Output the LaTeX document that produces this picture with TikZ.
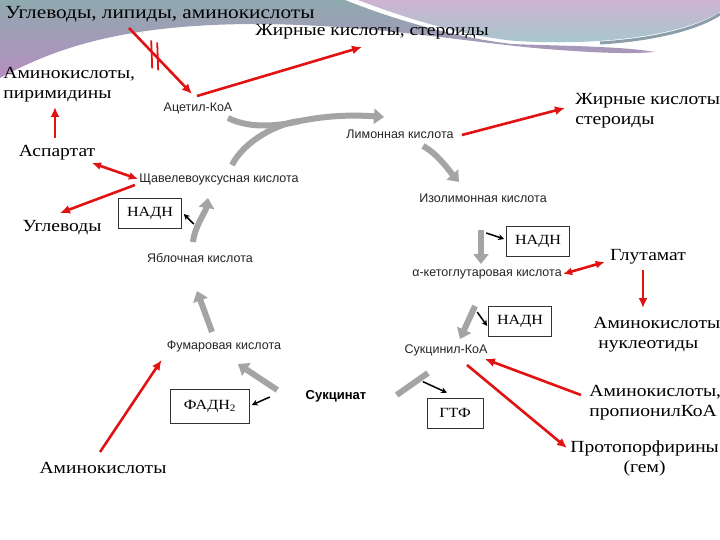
\documentclass[tikz,border=0pt]{standalone}
\usepackage{fontspec}
\setmainfont{Liberation Serif}[FakeStretch=1.15]
\setsansfont{Liberation Sans}
\usepackage{xcolor}
\definecolor{arrred}{HTML}{E31212}
\definecolor{cyclegray}{HTML}{A4A4A4}
\definecolor{bandteal}{HTML}{8FA9AF}
\definecolor{bandpurple}{HTML}{B68EC0}
\definecolor{bandpink}{HTML}{CDB4D1}
\definecolor{bandcyan}{HTML}{A4C8CD}
\definecolor{bandedge}{HTML}{8C9EAA}
\usetikzlibrary{arrows.meta, calc}

\begin{document}
\begin{tikzpicture}[x=1pt, y=-1pt, thick,
	txt/.style={font=\fontsize{17}{20}\selectfont, inner sep=0pt},
	met/.style={font=\sffamily\fontsize{12.5}{14}\selectfont, text=black!85, inner sep=0pt},
	cofactor/.style={draw=black!80, line width=0.6pt, font=\fontsize{14}{16}\selectfont, minimum width=63, minimum height=30},
	redarrow/.style={arrred, line width=2.6pt, -{Latex[length=10pt,width=9pt]}},
	redboth/.style={arrred, line width=2.6pt, {Latex[length=9pt,width=8pt]}-{Latex[length=9pt,width=8pt]}},
	cyclearrow/.style={cyclegray, line width=6pt, -{Triangle[length=10pt,width=15pt]}},
	smallarrow/.style={black, line width=1.5pt, -{Stealth[length=6pt,width=6pt]}}]
	
	\useasboundingbox (0,0) rectangle (720,540);
	\fill[white] (0,0) rectangle (720,540);
	\shade[top color=bandteal, bottom color=bandpurple] (0,0) -- (0,78) .. controls (60,45) and (130,25) .. (250,24) .. controls (380,24) and (480,45) .. (560,50) .. controls (600,53) and (630,54) .. (655,52) .. controls (620,46) and (560,46) .. (512,44) .. controls (460,38) and (400,22) .. (345,0) -- cycle;
	\shade[top color=bandpink, bottom color=bandcyan] (358,0) .. controls (410,20) and (465,36) .. (516,41) .. controls (600,46) and (680,36) .. (720,12) -- (720,0) -- cycle;
	\draw[bandedge, line width=3pt] (600,43) .. controls (650,40) and (695,30) .. (720,14);
	
	\node[txt, anchor=west, font=\fontsize{18.5}{21}\selectfont] (src) at (5,14) {Углеводы, липиды, аминокислоты};
	\node[txt, anchor=west] (fatty1) at (255,32) {Жирные кислоты, стероиды};
	\node[txt, anchor=west, align=left] (aminopyr) at (3,85) {Аминокислоты,\\пиримидины};
	\node[txt, anchor=west, align=left] (fatty2) at (575,111) {Жирные кислоты\\стероиды};
	\node[txt] (asp) at (57,153) {Аспартат};
	\node[txt] (carb) at (62,228) {Углеводы};
	\node[txt] (glu) at (648,257) {Глутамат};
	\node[txt, anchor=west, align=left] (aminonuc) at (593,335) {Аминокислоты\\\hspace{5pt}нуклеотиды};
	\node[txt, anchor=west, align=left] (aminoprop) at (589,403) {Аминокислоты,\\пропионилКоА};
	\node[txt, anchor=west, align=center] (proto) at (570,458) {Протопорфирины\\(гем)};
	\node[txt] (amino) at (103,468) {Аминокислоты};
	
	\node[met] (acetyl) at (198,108) {Ацетил-КоА};
	\node[met] (citrate) at (400,134) {Лимонная кислота};
	\node[met] (oaa) at (219,179) {Щавелевоуксусная кислота};
	\node[met] (isocit) at (483,198) {Изолимонная кислота};
	\node[met] (malate) at (200,258) {Яблочная кислота};
	\node[met] (akg) at (487,274) {α-кетоглутаровая кислота};
	\node[met] (succoa) at (446,350) {Сукцинил-КоА};
	\node[met] (fum) at (224,346) {Фумаровая кислота};
	\node[met, font=\sffamily\bfseries\fontsize{13}{15}\selectfont, text=black] (succ) at (336,396) {Сукцинат};
	
	\node[cofactor] (nadh1) at (150,213) {НАДН};
	\node[cofactor] (nadh2) at (538,241) {НАДН};
	\node[cofactor] (nadh3) at (520,321) {НАДН};
	\node[cofactor, minimum width=79, minimum height=34] (fad) at (210,406) {ФАДН\textsubscript{2}};
	\node[cofactor, minimum width=56] (gtp) at (455,413) {ГТФ};
	
	\coordinate (merge) at ($(citrate)+(-100,-13)$);
	\draw[cyclegray, line width=6pt] ($(oaa)+(13,-14)$) .. controls ($(oaa)+(25,-38)$) and ($(merge)+(-22,2)$) .. (merge);
	\draw[cyclearrow] ($(acetyl)+(30,10)$) .. controls ($(acetyl)+(50,20)$) and ($(merge)+(-25,6)$) .. (merge) .. controls ($(merge)+(30,-6)$) and ($(citrate)+(-45,-19)$) .. ($(citrate)+(-16,-17)$);
	\draw[cyclearrow] ($(citrate)+(23,12)$) .. controls ($(citrate)+(38,20)$) and ($(isocit)+(-32,-25)$) .. ($(isocit)+(-24,-16)$);
	\draw[cyclearrow] ($(isocit)+(-2,32)$) -- ($(akg)+(-6,-10)$);
	\draw[cyclearrow] ($(akg)+(-12,32)$) -- ($(succoa)+(14,-11)$);
	\draw[cyclegray, line width=6pt] ($(succoa)+(-18,23)$) -- ($(succ.east)+(30,-1)$);
	\draw[cyclearrow] ($(succ.west)+(-28,-6)$) -- ($(fum)+(14,18)$);
	\draw[cyclearrow] ($(fum)+(-12,-14)$) -- ($(malate)+(-3,33)$);
	\draw[cyclearrow] ($(malate)+(-7,-16)$) .. controls ($(malate)+(-6,-30)$) and ($(oaa)+(-13,32)$) .. ($(oaa)+(-11,19)$);
	
	\draw[smallarrow] ($(nadh1.east)+(12,11)$) -- ($(nadh1.east)+(2,1)$);
	\draw[smallarrow] ($(nadh2.west)+(-20,-8)$) -- ($(nadh2.west)+(-2,-2)$);
	\draw[smallarrow] ($(nadh3.west)+(-11,-9)$) -- ($(nadh3.west)+(-1,5)$);
	\draw[smallarrow] ($(gtp.north)+(-32,-16)$) -- ($(gtp.north)+(-8,-5)$);
	\draw[smallarrow] ($(fad.east)+(20,-9)$) -- ($(fad.east)+(2,-1)$);
	
	\draw[redarrow] ($(src.west)+(124,14)$) -- coordinate[pos=0.4] (cut) ($(acetyl)+(-6,-14)$);
	\draw[arrred, line width=1.8pt] ($(cut)+(-3,-14)$) -- ($(cut)+(-2,14)$);
	\draw[arrred, line width=1.8pt] ($(cut)+(3,-12)$) -- ($(cut)+(4,16)$);
	\draw[redarrow] ($(acetyl)+(-1,-12)$) -- ($(fatty1.west)+(107,15)$);
	\draw[redarrow] ($(citrate.east)+(8,1)$) -- ($(fatty2.west)+(-10,-3)$);
	\draw[redarrow] ($(asp)+(-2,-15)$) -- ($(aminopyr.west)+(52,22)$);
	\draw[redboth] ($(asp)+(35,10)$) -- ($(oaa.west)+(-1,0)$);
	\draw[redarrow] ($(oaa.west)+(-4,6)$) -- ($(carb)+(-2,-15)$);
	\draw[redboth] ($(akg.east)+(1,0)$) -- ($(glu.west)+(-5,5)$);
	\draw[redarrow] ($(glu)+(-5,13)$) -- ($(aminonuc.west)+(50,-27)$);
	\draw[redarrow] ($(aminoprop.west)+(-8,-8)$) -- ($(succoa.east)+(-3,9)$);
	\draw[redarrow] ($(succoa)+(21,15)$) -- ($(proto.west)+(-3,-10)$);
	\draw[redarrow] ($(amino)+(-3,-16)$) -- ($(fum.west)+(-5,14)$);
\end{tikzpicture}
\end{document}
